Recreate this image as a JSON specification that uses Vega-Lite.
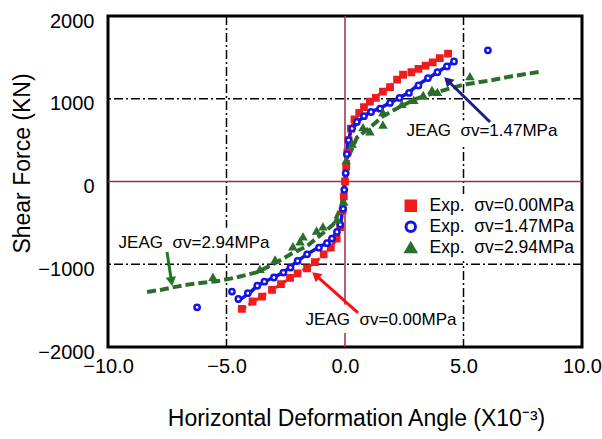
{
 "$schema": "https://vega.github.io/schema/vega-lite/v6.json",
 "width": 474, "height": 331,
 "autosize": "none",
 "padding": {"left": 108, "top": 16, "right": 20, "bottom": 92},
 "background": "white",
 "config": {"view": {"stroke": "black", "strokeWidth": 3}, "font": "Liberation Sans"},
 "datasets": {
  "curves": [
   {"s":"0.00","x":-4.35,"y":-1545},{"s":"0.00","x":-3.8,"y":-1440},{"s":"0.00","x":-3.1,"y":-1315},{"s":"0.00","x":-2.3,"y":-1165},{"s":"0.00","x":-1.6,"y":-1040},{"s":"0.00","x":-1.3,"y":-985},{"s":"0.00","x":-0.8,"y":-860},{"s":"0.00","x":-0.4,"y":-720},{"s":"0.00","x":-0.2,"y":-560},{"s":"0.00","x":-0.1,"y":-320},{"s":"0.00","x":0,"y":0},{"s":"0.00","x":0.1,"y":320},{"s":"0.00","x":0.2,"y":570},{"s":"0.00","x":0.3,"y":680},{"s":"0.00","x":0.6,"y":830},{"s":"0.00","x":1.0,"y":960},{"s":"0.00","x":1.6,"y":1085},{"s":"0.00","x":2.0,"y":1180},{"s":"0.00","x":2.45,"y":1285},{"s":"0.00","x":3.0,"y":1350},{"s":"0.00","x":3.6,"y":1430},{"s":"0.00","x":4.35,"y":1545},
   {"s":"1.47","x":-4.56,"y":-1455},{"s":"1.47","x":-4.0,"y":-1340},{"s":"1.47","x":-3.7,"y":-1260},{"s":"1.47","x":-3.1,"y":-1170},{"s":"1.47","x":-2.6,"y":-1100},{"s":"1.47","x":-2.0,"y":-960},{"s":"1.47","x":-1.6,"y":-880},{"s":"1.47","x":-1.2,"y":-810},{"s":"1.47","x":-0.76,"y":-740},{"s":"1.47","x":-0.34,"y":-620},{"s":"1.47","x":-0.15,"y":-450},{"s":"1.47","x":-0.05,"y":-200},{"s":"1.47","x":0,"y":0},{"s":"1.47","x":0.05,"y":200},{"s":"1.47","x":0.12,"y":450},{"s":"1.47","x":0.25,"y":620},{"s":"1.47","x":0.63,"y":745},{"s":"1.47","x":1.0,"y":830},{"s":"1.47","x":1.5,"y":890},{"s":"1.47","x":2.0,"y":965},{"s":"1.47","x":2.6,"y":1060},{"s":"1.47","x":3.2,"y":1190},{"s":"1.47","x":3.9,"y":1320},{"s":"1.47","x":4.64,"y":1455},
   {"s":"2.94","x":-8.35,"y":-1335},{"s":"2.94","x":-7.7,"y":-1305},{"s":"2.94","x":-7.1,"y":-1270},{"s":"2.94","x":-6.5,"y":-1240},{"s":"2.94","x":-5.4,"y":-1205},{"s":"2.94","x":-4.6,"y":-1160},{"s":"2.94","x":-3.7,"y":-1095},{"s":"2.94","x":-3.0,"y":-995},{"s":"2.94","x":-2.3,"y":-880},{"s":"2.94","x":-1.6,"y":-780},{"s":"2.94","x":-1.0,"y":-640},{"s":"2.94","x":-0.5,"y":-520},{"s":"2.94","x":-0.15,"y":-300},{"s":"2.94","x":0,"y":0},{"s":"2.94","x":0.15,"y":300},{"s":"2.94","x":0.5,"y":530},{"s":"2.94","x":1.0,"y":640},{"s":"2.94","x":1.6,"y":790},{"s":"2.94","x":2.3,"y":900},{"s":"2.94","x":3.0,"y":1000},{"s":"2.94","x":4.0,"y":1090},{"s":"2.94","x":5.0,"y":1170},{"s":"2.94","x":6.1,"y":1220},{"s":"2.94","x":7.0,"y":1270},{"s":"2.94","x":8.3,"y":1330}
  ],
  "exp": [
   {"s":"0.00","x":0,"y":0},{"s":"0.00","x":0.05,"y":180},{"s":"0.00","x":0.1,"y":350},{"s":"0.00","x":0.15,"y":500},{"s":"0.00","x":0.25,"y":640},{"s":"0.00","x":0.4,"y":750},{"s":"0.00","x":0.6,"y":830},{"s":"0.00","x":0.8,"y":900},{"s":"0.00","x":1.05,"y":965},{"s":"0.00","x":1.3,"y":1010},{"s":"0.00","x":1.6,"y":1085},{"s":"0.00","x":1.9,"y":1140},{"s":"0.00","x":2.2,"y":1230},{"s":"0.00","x":2.45,"y":1290},{"s":"0.00","x":2.8,"y":1320},{"s":"0.00","x":3.1,"y":1360},{"s":"0.00","x":3.4,"y":1400},{"s":"0.00","x":3.7,"y":1440},{"s":"0.00","x":4.0,"y":1490},{"s":"0.00","x":4.35,"y":1545},
   {"s":"0.00","x":-0.05,"y":-180},{"s":"0.00","x":-0.1,"y":-350},{"s":"0.00","x":-0.2,"y":-550},{"s":"0.00","x":-0.35,"y":-690},{"s":"0.00","x":-0.6,"y":-800},{"s":"0.00","x":-0.9,"y":-880},{"s":"0.00","x":-1.27,"y":-975},{"s":"0.00","x":-1.6,"y":-1050},{"s":"0.00","x":-2.0,"y":-1110},{"s":"0.00","x":-2.32,"y":-1165},{"s":"0.00","x":-2.7,"y":-1240},{"s":"0.00","x":-3.08,"y":-1310},{"s":"0.00","x":-3.5,"y":-1390},{"s":"0.00","x":-3.9,"y":-1450},{"s":"0.00","x":-4.35,"y":-1540},
   {"s":"1.47","x":0.03,"y":100},{"s":"1.47","x":0.08,"y":330},{"s":"1.47","x":0.15,"y":500},{"s":"1.47","x":0.3,"y":640},{"s":"1.47","x":0.5,"y":720},{"s":"1.47","x":0.8,"y":790},{"s":"1.47","x":1.1,"y":840},{"s":"1.47","x":1.48,"y":880},{"s":"1.47","x":1.9,"y":950},{"s":"1.47","x":2.3,"y":1010},{"s":"1.47","x":2.7,"y":1070},{"s":"1.47","x":3.1,"y":1160},{"s":"1.47","x":3.5,"y":1250},{"s":"1.47","x":3.9,"y":1320},{"s":"1.47","x":4.3,"y":1390},{"s":"1.47","x":4.6,"y":1450},{"s":"1.47","x":6.03,"y":1585},
   {"s":"1.47","x":-0.03,"y":-100},{"s":"1.47","x":-0.08,"y":-330},{"s":"1.47","x":-0.2,"y":-520},{"s":"1.47","x":-0.34,"y":-610},{"s":"1.47","x":-0.55,"y":-690},{"s":"1.47","x":-0.76,"y":-745},{"s":"1.47","x":-1.1,"y":-800},{"s":"1.47","x":-1.6,"y":-880},{"s":"1.47","x":-2.0,"y":-960},{"s":"1.47","x":-2.3,"y":-1040},{"s":"1.47","x":-2.6,"y":-1100},{"s":"1.47","x":-3.0,"y":-1160},{"s":"1.47","x":-3.4,"y":-1210},{"s":"1.47","x":-3.7,"y":-1260},{"s":"1.47","x":-4.1,"y":-1350},{"s":"1.47","x":-4.5,"y":-1420},{"s":"1.47","x":-4.77,"y":-1330},{"s":"1.47","x":-6.24,"y":-1520},
   {"s":"2.94","x":0.05,"y":250},{"s":"2.94","x":0.3,"y":450},{"s":"2.94","x":0.76,"y":650},{"s":"2.94","x":1.05,"y":600},{"s":"2.94","x":1.6,"y":680},{"s":"2.94","x":1.6,"y":830},{"s":"2.94","x":2.4,"y":930},{"s":"2.94","x":2.9,"y":980},{"s":"2.94","x":3.3,"y":1040},{"s":"2.94","x":3.67,"y":1100},{"s":"2.94","x":3.9,"y":1075},{"s":"2.94","x":5.27,"y":1265},
   {"s":"2.94","x":-0.05,"y":-250},{"s":"2.94","x":-0.34,"y":-465},{"s":"2.94","x":-0.93,"y":-550},{"s":"2.94","x":-1.2,"y":-600},{"s":"2.94","x":-1.77,"y":-670},{"s":"2.94","x":-1.9,"y":-730},{"s":"2.94","x":-2.2,"y":-790},{"s":"2.94","x":-2.95,"y":-950},{"s":"2.94","x":-3.59,"y":-1063},{"s":"2.94","x":-5.57,"y":-1160}
  ],
  "notes": [
   {"x":5.78,"y":616,"t":"JEAG\u00a0 σv=1.47MPa"},
   {"x":-6.37,"y":-743,"t":"JEAG\u00a0 σv=2.94MPa"},
   {"x":1.52,"y":-1670,"t":"JEAG\u00a0 σv=0.00MPa"}
  ],
  "boxes": [
   {"x":2.5,"x2":9.0,"y":740,"y2":430},
   {"x":-9.8,"x2":-2.95,"y":-560,"y2":-850},
   {"x":-1.9,"x2":4.85,"y":-1490,"y2":-1830}
  ],
  "arrows": [
   {"s":"1.47","x":6.12,"y":719,"x2":4.37,"y2":1208},
   {"s":"0.00","x":0.55,"y":-1589,"x2":-1.19,"y2":-1144},
   {"s":"2.94","x":-7.51,"y":-852,"x2":-7.33,"y2":-1190}
  ]
 },
 "layer": [
  {
   "data": {"values": [{"x": -5}, {"x": 5}]},
   "mark": {"type": "rule", "color": "black", "strokeWidth": 1.5, "strokeDash": [9, 3, 2, 3]},
   "encoding": {
    "x": {"field": "x", "type": "quantitative", "title": "Horizontal Deformation Angle (X10⁻³)", "scale": {"domain": [-10, 10], "nice": false, "zero": false},
     "axis": {"values": [-10, -5, 0, 5, 10], "format": ".1f", "grid": false, "ticks": false, "domain": false,
      "labelFontSize": 20, "labelColor": "black", "labelPadding": 9, "labelFlush": false,
      "titleFontSize": 23, "titleFontWeight": "normal", "titleColor": "black",
      "titleX": 248, "titleY": 78, "titleBaseline": "alphabetic", "titleAnchor": null}}
   }
  },
  {
   "data": {"values": [{"y": 1000}, {"y": -1000}]},
   "mark": {"type": "rule", "color": "black", "strokeWidth": 1.5, "strokeDash": [9, 3, 2, 3]},
   "encoding": {
    "y": {"field": "y", "type": "quantitative", "title": "Shear Force (KN)", "scale": {"domain": [-2000, 2000], "nice": false, "zero": false},
     "axis": {"values": [-2000, -1000, 0, 1000, 2000], "format": "d", "grid": false, "ticks": false, "domain": false,
      "labelFontSize": 20, "labelColor": "black", "labelPadding": 14, "labelOffset": 5, "labelFlush": false,
      "titleFontSize": 23, "titleFontWeight": "normal", "titleColor": "black",
      "titleX": -86, "titleY": 147, "titleBaseline": "middle", "titleAnchor": null}}
   }
  },
  {
   "data": {"values": [{"x": 0}]},
   "mark": {"type": "rule", "color": "#a3294a", "strokeWidth": 1.5},
   "encoding": {"x": {"field": "x", "type": "quantitative", "title": "Horizontal Deformation Angle (X10⁻³)"}}
  },
  {
   "data": {"values": [{"y": 0}]},
   "mark": {"type": "rule", "color": "#a3294a", "strokeWidth": 1.5},
   "encoding": {"y": {"field": "y", "type": "quantitative", "title": "Shear Force (KN)"}}
  },
  {
   "data": {"name": "boxes"},
   "mark": {"type": "rect", "fill": "white"},
   "encoding": {
    "x": {"field": "x", "type": "quantitative", "title": "Horizontal Deformation Angle (X10⁻³)"}, "x2": {"field": "x2"},
    "y": {"field": "y", "type": "quantitative", "title": "Shear Force (KN)"}, "y2": {"field": "y2"}
   }
  },
  {
   "data": {"name": "curves"},
   "transform": [{"filter": "datum.s == '0.00'"}],
   "mark": {"type": "line", "color": "#ee1c1c", "strokeWidth": 3, "strokeDash": [5, 3]},
   "encoding": {"x": {"field": "x", "type": "quantitative", "title": "Horizontal Deformation Angle (X10⁻³)"}, "y": {"field": "y", "type": "quantitative", "title": "Shear Force (KN)"}}
  },
  {
   "data": {"name": "curves"},
   "transform": [{"filter": "datum.s == '2.94'"}],
   "mark": {"type": "line", "color": "#2b6e2b", "strokeWidth": 4, "strokeDash": [9, 4]},
   "encoding": {"x": {"field": "x", "type": "quantitative", "title": "Horizontal Deformation Angle (X10⁻³)"}, "y": {"field": "y", "type": "quantitative", "title": "Shear Force (KN)"}}
  },
  {
   "data": {"name": "curves"},
   "transform": [{"filter": "datum.s == '1.47'"}],
   "mark": {"type": "line", "color": "#1414e6", "strokeWidth": 3.5},
   "encoding": {"x": {"field": "x", "type": "quantitative", "title": "Horizontal Deformation Angle (X10⁻³)"}, "y": {"field": "y", "type": "quantitative", "title": "Shear Force (KN)"}}
  },
  {
   "data": {"name": "exp"},
   "mark": {"type": "point", "filled": false, "strokeWidth": 2.5, "opacity": 1},
   "encoding": {
    "x": {"field": "x", "type": "quantitative", "title": "Horizontal Deformation Angle (X10⁻³)"},
    "y": {"field": "y", "type": "quantitative", "title": "Shear Force (KN)"},
    "fill": {"field": "s", "type": "nominal", "scale": {"domain": ["0.00", "1.47", "2.94"], "range": ["#ee1c1c", "#ffffff", "#2b6e2b"]},
     "legend": {"orient": "none", "legendX": 291, "legendY": 178, "title": null, "labelFontSize": 17.5, "labelColor": "black",
      "symbolSize": 90, "symbolStrokeWidth": 3, "rowPadding": -1, "padding": 3, "fillColor": "white", "labelOffset": 10,
      "labelExpr": "'Exp.\u00a0 σv=' + datum.label + 'MPa'"}},
    "stroke": {"field": "s", "type": "nominal", "scale": {"domain": ["0.00", "1.47", "2.94"], "range": ["#ee1c1c", "#1414e6", "#2b6e2b"]}},
    "shape": {"field": "s", "type": "nominal", "scale": {"domain": ["0.00", "1.47", "2.94"], "range": ["square", "circle", "triangle-up"]}},
    "size": {"value": 28}
   }
  },
  {
   "data": {"name": "notes"},
   "mark": {"type": "text", "fontSize": 17, "color": "black", "align": "center", "baseline": "middle"},
   "encoding": {"x": {"field": "x", "type": "quantitative", "title": "Horizontal Deformation Angle (X10⁻³)"}, "y": {"field": "y", "type": "quantitative", "title": "Shear Force (KN)"}, "text": {"field": "t"}}
  },
  {
   "data": {"name": "arrows"},
   "mark": {"type": "rule", "strokeWidth": 3},
   "encoding": {
    "x": {"field": "x", "type": "quantitative", "title": "Horizontal Deformation Angle (X10⁻³)"}, "y": {"field": "y", "type": "quantitative", "title": "Shear Force (KN)"},
    "x2": {"field": "x2"}, "y2": {"field": "y2"},
    "color": {"field": "s", "type": "nominal", "scale": {"domain": ["0.00", "1.47", "2.94"], "range": ["#ff1010", "#1c1c8a", "#1a7a1a"]}, "legend": null}
   }
  },
  {
   "data": {"name": "arrows"},
   "transform": [{"filter": "datum.s == '1.47'"}],
   "mark": {"type": "point", "shape": "triangle", "filled": true, "color": "#1c1c8a", "size": 110, "angle": 314, "opacity": 1},
   "encoding": {"x": {"field": "x2", "type": "quantitative", "title": "Horizontal Deformation Angle (X10⁻³)"}, "y": {"field": "y2", "type": "quantitative", "title": "Shear Force (KN)"}}
  },
  {
   "data": {"name": "arrows"},
   "transform": [{"filter": "datum.s == '0.00'"}],
   "mark": {"type": "point", "shape": "triangle", "filled": true, "color": "#ff1010", "size": 110, "angle": 310, "opacity": 1},
   "encoding": {"x": {"field": "x2", "type": "quantitative", "title": "Horizontal Deformation Angle (X10⁻³)"}, "y": {"field": "y2", "type": "quantitative", "title": "Shear Force (KN)"}}
  },
  {
   "data": {"name": "arrows"},
   "transform": [{"filter": "datum.s == '2.94'"}],
   "mark": {"type": "point", "shape": "triangle", "filled": true, "color": "#1a7a1a", "size": 110, "angle": 171, "opacity": 1},
   "encoding": {"x": {"field": "x2", "type": "quantitative", "title": "Horizontal Deformation Angle (X10⁻³)"}, "y": {"field": "y2", "type": "quantitative", "title": "Shear Force (KN)"}}
  }
 ]
}
